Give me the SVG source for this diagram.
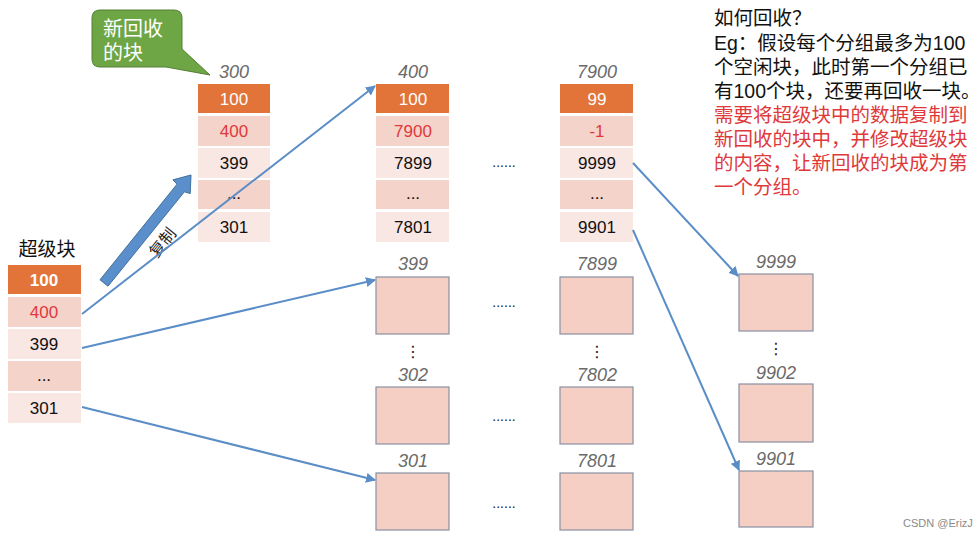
<svg xmlns="http://www.w3.org/2000/svg" width="979" height="536" viewBox="0 0 979 536">
<defs>
<style>
text{font-family:"Liberation Sans","Noto Sans CJK SC",sans-serif;}
.num{font-size:17px;fill:#111;text-anchor:middle;}
.red{fill:#E0393B;}
.wh{fill:#fff;}
.lbl{font-size:18px;font-style:italic;fill:#6a6a6a;text-anchor:middle;}
.or{fill:#E37439;}
.pk{fill:#F4D3CA;}
.lt{fill:#F9E7E3;}
.box{fill:#F5CFC3;stroke:#8A90A4;stroke-width:1.2;}
.dots{font-size:14px;fill:#222;text-anchor:middle;}
.vd{font-family:"DejaVu Sans",sans-serif;font-size:16px;fill:#222;text-anchor:middle;}
.con{stroke:#5B8DC7;stroke-width:2;fill:none;marker-end:url(#ah);}
.note{font-size:19.5px;fill:#111;}
.note.r{fill:#E0393B;}
</style>
<marker id="ah" viewBox="0 0 10 10" refX="9" refY="5" markerWidth="5" markerHeight="5" orient="auto" markerUnits="strokeWidth">
<path d="M0,0 L10,5 L0,10 z" fill="#5B8DC7"/>
</marker>
</defs>
<rect width="979" height="536" fill="#fff"/>

<g id="superblock">
<text x="47" y="256" font-size="19" text-anchor="middle" fill="#111">超级块</text>
<rect x="8" y="265" width="73" height="29" class="or"/>
<rect x="8" y="297" width="73" height="30" class="pk"/>
<rect x="8" y="329" width="73" height="30" class="lt"/>
<rect x="8" y="361" width="73" height="30" class="pk"/>
<rect x="8" y="393" width="73" height="30" class="lt"/>
<text x="44" y="286" class="num wh" font-weight="bold">100</text>
<text x="44" y="318" class="num red">400</text>
<text x="44" y="350" class="num">399</text>
<text x="44" y="381" class="num">...</text>
<text x="44" y="414" class="num">301</text>
</g>

<g id="callout">
<path d="M100,10 H174 Q182,10 182,18 V49 L210,75 L166,67 H100 Q92,67 92,59 V18 Q92,10 100,10 Z" fill="#6EA645" stroke="#547F35" stroke-width="1"/>
<text x="103" y="36" font-size="20" fill="#fff">新回收</text>
<text x="103" y="60" font-size="20" fill="#fff">的块</text>
</g>

<g id="copy-arrow">
<polygon points="108.0,286.2 184.4,191.8 190.2,193.6 191,175 173,179.8 177.0,184.2 100.0,279.8" fill="#5B8FCB" stroke="#41719C" stroke-width="1"/>
<text x="0" y="0" font-size="16" fill="#222" text-anchor="middle" transform="translate(167,246) rotate(-51)">复制</text>
</g>

<g id="block300">
<text x="234" y="78" class="lbl">300</text>
<rect x="198" y="84" width="72" height="29" class="or"/>
<rect x="198" y="116" width="72" height="30" class="pk"/>
<rect x="198" y="148" width="72" height="30" class="lt"/>
<rect x="198" y="180" width="72" height="29" class="pk"/>
<rect x="198" y="212" width="72" height="30" class="lt"/>
<text x="234" y="105" class="num wh">100</text>
<text x="234" y="137" class="num red">400</text>
<text x="234" y="169" class="num">399</text>
<text x="234" y="199" class="num">...</text>
<text x="234" y="233" class="num">301</text>
</g>

<g id="block400">
<text x="413" y="78" class="lbl">400</text>
<rect x="376" y="84" width="73" height="29" class="or"/>
<rect x="376" y="116" width="73" height="30" class="pk"/>
<rect x="376" y="148" width="73" height="30" class="lt"/>
<rect x="376" y="180" width="73" height="29" class="pk"/>
<rect x="376" y="212" width="73" height="30" class="lt"/>
<text x="413" y="105" class="num wh">100</text>
<text x="413" y="137" class="num red">7900</text>
<text x="413" y="169" class="num">7899</text>
<text x="413" y="199" class="num">...</text>
<text x="413" y="233" class="num">7801</text>
</g>

<g id="block7900">
<text x="597" y="78" class="lbl">7900</text>
<rect x="560" y="84" width="73" height="29" class="or"/>
<rect x="560" y="116" width="73" height="30" class="pk"/>
<rect x="560" y="148" width="73" height="30" class="lt"/>
<rect x="560" y="180" width="73" height="29" class="pk"/>
<rect x="560" y="212" width="73" height="30" class="lt"/>
<text x="597" y="105" class="num wh">99</text>
<text x="597" y="137" class="num red">-1</text>
<text x="597" y="169" class="num">9999</text>
<text x="597" y="199" class="num">...</text>
<text x="597" y="233" class="num">9901</text>
</g>

<g id="dots-top"><text x="504" y="167" class="dots">......</text></g>

<g id="b399"><text x="413" y="270" class="lbl">399</text><rect x="376" y="277" width="73" height="57" class="box"/></g>
<g id="b302"><text x="413" y="381" class="lbl">302</text><rect x="376" y="387" width="73" height="57" class="box"/></g>
<g id="b301"><text x="413" y="467" class="lbl">301</text><rect x="376" y="473" width="73" height="57" class="box"/></g>
<g id="b7899"><text x="597" y="270" class="lbl">7899</text><rect x="560" y="277" width="73" height="57" class="box"/></g>
<g id="b7802"><text x="597" y="381" class="lbl">7802</text><rect x="560" y="387" width="73" height="57" class="box"/></g>
<g id="b7801"><text x="597" y="467" class="lbl">7801</text><rect x="560" y="473" width="73" height="57" class="box"/></g>
<g id="b9999"><text x="776" y="268" class="lbl">9999</text><rect x="739" y="274" width="74" height="57" class="box"/></g>
<g id="b9902"><text x="776" y="379" class="lbl">9902</text><rect x="739" y="384" width="74" height="58" class="box"/></g>
<g id="b9901"><text x="776" y="465" class="lbl">9901</text><rect x="739" y="471" width="74" height="56" class="box"/></g>

<g id="ellipses">
<text x="504" y="307" class="dots">......</text>
<text x="504" y="421" class="dots">......</text>
<text x="504" y="508" class="dots">......</text>
<text x="413" y="357" class="vd">⋮</text>
<text x="597" y="357" class="vd">⋮</text>
<text x="776" y="354" class="vd">⋮</text>
</g>

<g id="connectors">
<line x1="82" y1="314" x2="375" y2="86" class="con"/>
<line x1="82" y1="348" x2="375" y2="280" class="con"/>
<line x1="82" y1="407" x2="375" y2="480" class="con"/>
<line x1="633" y1="163" x2="738" y2="276" class="con"/>
<line x1="633" y1="230" x2="739" y2="470" class="con"/>
</g>

<g id="note">
<text x="714" y="25" class="note">如何回收？</text>
<text x="714" y="50" class="note">Eg：假设每个分组最多为100</text>
<text x="714" y="74" class="note">个空闲块，此时第一个分组已</text>
<text x="714" y="98" class="note">有100个块，还要再回收一块。</text>
<text x="714" y="122" class="note r">需要将超级块中的数据复制到</text>
<text x="714" y="146" class="note r">新回收的块中，并修改超级块</text>
<text x="714" y="170" class="note r">的内容，让新回收的块成为第</text>
<text x="714" y="194" class="note r">一个分组。</text>
</g>

<text x="903" y="527" font-size="11" fill="#8a8a8a">CSDN @ErizJ</text>
</svg>
